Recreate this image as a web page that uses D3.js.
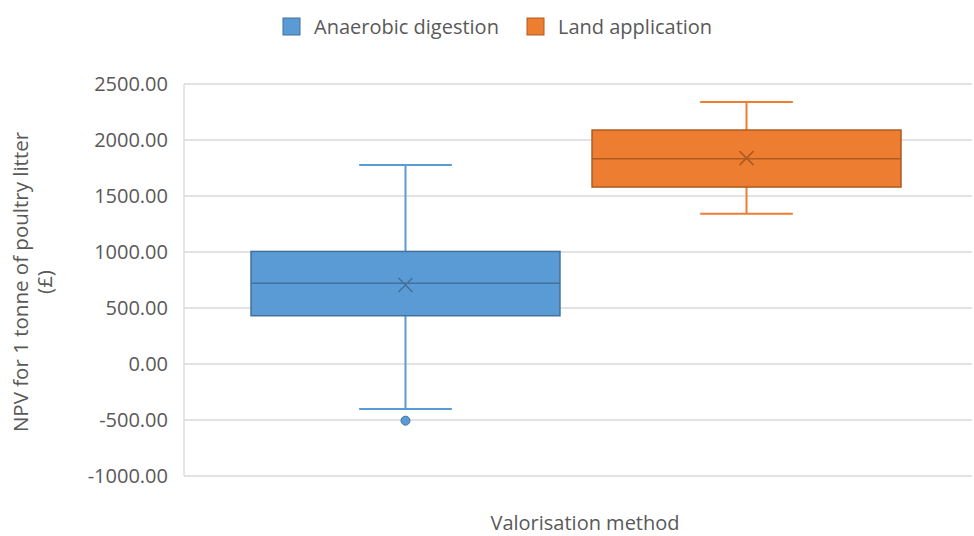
<!DOCTYPE html>
<html>
<head>
<meta charset="utf-8">
<script src="https://cdn.jsdelivr.net/npm/d3@7"></script>
<style>
  body { margin: 0; background: #fff; }
  text { font-family: "Open Sans", Lato, sans-serif; fill: #595959; }
</style>
</head>
<body>
<div id="chart"></div>
<script>
// series shown in the legend
var seriesNames = ["Anaerobic digestion", "Land application"];
var seriesColors = ["#5B9BD5", "#ED7D31"];
var strokeColors = ["#41719C", "#AE5A21"];

// five-number summaries
var whiskerLow = [-402, 1342];
var boxLow = [431, 1580];
var medians = [720, 1833];
var boxHigh = [1005, 2089];
var whiskerHigh = [1777, 2339];
var means = [705, 1838];
var outliers = [[-506], []];

var yTicks = [-1000, -500, 0, 500, 1000, 1500, 2000, 2500];

var W = 974, H = 536;
var svg = d3.select("#chart").append("svg")
  .attr("width", W)
  .attr("height", H);

var pLeft = 184, pRight = 972, pTop = 84, pBottom = 476;

var y = d3.scaleLinear().domain([-1000, 2500]).range([pBottom, pTop]);
// one category, two series side by side
var x = d3.scaleBand().domain(seriesNames).range([pLeft + 67, pRight - 71]).paddingInner(0.094);

// gridlines
svg.append("g").selectAll("line").data(yTicks).enter().append("line")
  .attr("x1", pLeft).attr("x2", pRight)
  .attr("y1", function(d){ return y(d); })
  .attr("y2", function(d){ return y(d); })
  .attr("stroke", "#d9d9d9").attr("stroke-width", 1.3);
svg.append("line")
  .attr("x1", pLeft).attr("x2", pLeft).attr("y1", pTop).attr("y2", pBottom)
  .attr("stroke", "#d9d9d9").attr("stroke-width", 1.3);

// y axis labels (plain hyphen for negatives, like the original)
var yAxis = d3.axisLeft(y).tickValues(yTicks).tickSize(0).tickPadding(16)
  .tickFormat(function(d){ return d.toFixed(2); });
var ga = svg.append("g").attr("transform", "translate(" + pLeft + ",0)").call(yAxis);
ga.select(".domain").remove();
ga.selectAll("text").style("font-size", "20px").style("font-family", null).attr("fill", "#595959");

// boxes
var idx = d3.range(seriesNames.length);
var g = svg.append("g");
idx.forEach(function(i){
  var x0 = x(seriesNames[i]), bw = x.bandwidth(), cx = x0 + bw / 2;
  var cap = bw * 0.3;
  var col = strokeColors[i];
  // whiskers
  g.append("line").attr("x1", cx).attr("x2", cx)
    .attr("y1", y(whiskerHigh[i])).attr("y2", y(boxHigh[i]))
    .attr("stroke", seriesColors[i]).attr("stroke-width", 2);
  g.append("line").attr("x1", cx).attr("x2", cx)
    .attr("y1", y(boxLow[i])).attr("y2", y(whiskerLow[i]))
    .attr("stroke", seriesColors[i]).attr("stroke-width", 2);
  [whiskerHigh[i], whiskerLow[i]].forEach(function(v){
    g.append("line").attr("x1", cx - cap / 2).attr("x2", cx + cap / 2)
      .attr("y1", y(v)).attr("y2", y(v))
      .attr("stroke", seriesColors[i]).attr("stroke-width", 2);
  });
  g.append("rect")
    .attr("x", x0).attr("width", bw)
    .attr("y", y(boxHigh[i])).attr("height", y(boxLow[i]) - y(boxHigh[i]))
    .attr("fill", seriesColors[i]).attr("stroke", col).attr("stroke-width", 1.5);
  g.append("line").attr("x1", x0).attr("x2", x0 + bw)
    .attr("y1", y(medians[i])).attr("y2", y(medians[i]))
    .attr("stroke", col).attr("stroke-width", 1.5);
  var m = y(means[i]), s = 7;
  g.append("path")
    .attr("d", "M" + (cx - s) + "," + (m - s) + "L" + (cx + s) + "," + (m + s) +
      "M" + (cx - s) + "," + (m + s) + "L" + (cx + s) + "," + (m - s))
    .attr("stroke", col).attr("stroke-width", 1.5).attr("fill", "none");
  g.selectAll(null).data(outliers[i]).enter().append("circle")
    .attr("cx", cx).attr("cy", function(d){ return y(d); }).attr("r", 4.5)
    .attr("fill", seriesColors[i]).attr("stroke", col).attr("stroke-width", 1);
});

// legend
var legX = [283, 527];
idx.forEach(function(i){
  svg.append("rect").attr("x", legX[i]).attr("y", 18).attr("width", 17).attr("height", 17)
    .attr("fill", seriesColors[i]).attr("stroke", strokeColors[i]).attr("stroke-width", 1);
  svg.append("text").attr("x", legX[i] + 31).attr("y", 34)
    .style("font-size", "20px").text(seriesNames[i]);
});

// axis titles
svg.append("text").attr("x", 585).attr("y", 530).attr("text-anchor", "middle")
  .style("font-size", "20px").text("Valorisation method");
var yt = svg.append("text").attr("transform", "translate(28,282) rotate(-90)")
  .attr("text-anchor", "middle").style("font-size", "20.5px");
yt.append("tspan").attr("x", 0).attr("dy", 0).text("NPV for 1 tonne of poultry litter");
yt.append("tspan").attr("x", 0).attr("dy", 24).text("(£)");
</script>
</body>
</html>
